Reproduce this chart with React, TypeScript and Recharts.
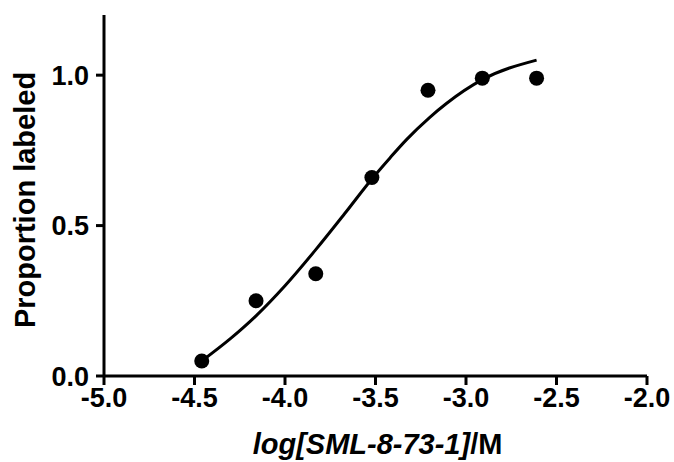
import { ComposedChart, Line, Scatter, XAxis, YAxis } from 'recharts'

// measured points
const logDose = [-4.46, -4.16, -3.83, -3.52, -3.21, -2.91, -2.61]
const proportion = [0.05, 0.25, 0.34, 0.66, 0.95, 0.99, 0.99]

// fitted curve
const fitLog = [-4.46, -4.3, -4.16, -4.0, -3.83, -3.67, -3.52, -3.42, -3.33, -3.2, -3.11, -2.91, -2.61]
const fitValue = [0.05, 0.125, 0.2, 0.3, 0.42, 0.54, 0.655, 0.725, 0.785, 0.86, 0.905, 0.985, 1.05]

const xTicks = [-5, -4.5, -4, -3.5, -3, -2.5, -2]
const yTicks = [0, 0.5, 1.0]

const points = logDose.map((x, i) => ({ x, y: proportion[i] }))
const curve = fitLog.map((x, i) => ({ x, y: fitValue[i] }))

const FONT = '"Liberation Sans", Arial, sans-serif'

const tickStyle = { fontFamily: FONT, fontWeight: 'bold', fontSize: 27, fill: '#000' }

function XTitle({ viewBox }: any) {
  const cx = viewBox.x + viewBox.width / 2
  return (
    <text x={cx + 2} y={454} textAnchor="middle" fontFamily={FONT} fontWeight="bold" fontSize={29} fill="#000">
      <tspan fontStyle="italic">log[SML-8-73-1]</tspan>
      <tspan>/M</tspan>
    </text>
  )
}

function YTitle() {
  return (
    <text
      x={35}
      y={200}
      transform="rotate(-90, 35, 200)"
      textAnchor="middle"
      fontFamily={FONT}
      fontWeight="bold"
      fontSize={29}
      fill="#000"
    >
      Proportion labeled
    </text>
  )
}

const Dot = (props: any) => <circle cx={props.cx} cy={props.cy} r={7.5} fill="#000" />

export default function App() {
  return (
    <div style={{ position: 'absolute', left: 0, top: 0, background: '#fff' }}>
      <ComposedChart width={674} height={462} margin={{ top: 15, right: 27, left: 0, bottom: 0 }}>
        <XAxis
          type="number"
          dataKey="x"
          domain={[-5, -2]}
          ticks={xTicks}
          tickFormatter={(v: number) => v.toFixed(1)}
          height={86}
          tickSize={9}
          tickMargin={3}
          axisLine={{ stroke: '#000', strokeWidth: 3 }}
          tickLine={{ stroke: '#000', strokeWidth: 3 }}
          tick={tickStyle}
          allowDataOverflow
          label={<XTitle />}
        />
        <YAxis
          type="number"
          dataKey="y"
          domain={[0, 1.2]}
          ticks={yTicks}
          tickFormatter={(v: number) => v.toFixed(1)}
          width={104}
          tickSize={8}
          tickMargin={7}
          axisLine={{ stroke: '#000', strokeWidth: 3 }}
          tickLine={{ stroke: '#000', strokeWidth: 3 }}
          tick={tickStyle}
          allowDataOverflow
          label={<YTitle />}
        />
        <Line
          data={curve}
          dataKey="y"
          type="monotone"
          stroke="#000"
          strokeWidth={3}
          dot={false}
          activeDot={false}
          isAnimationActive={false}
        />
        <Scatter data={points} dataKey="y" shape={Dot} isAnimationActive={false} />
      </ComposedChart>
    </div>
  )
}
